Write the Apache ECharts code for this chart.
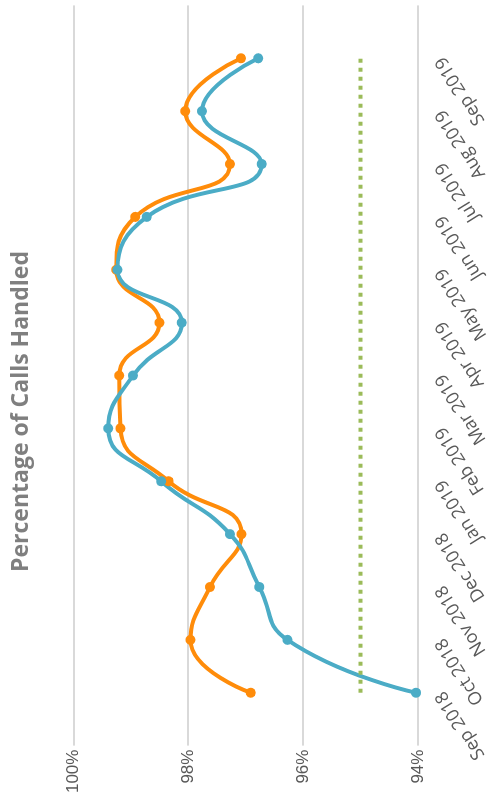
<!DOCTYPE html>
<html>
<head>
<meta charset="utf-8">
<script src="https://cdn.jsdelivr.net/npm/echarts@6/dist/echarts.min.js"></script>
<style>
  html, body { margin: 0; padding: 0; background: #ffffff; overflow: hidden; }
  body { width: 492px; height: 803px; position: relative; }
  /* the chart is laid out landscape and turned a quarter turn counter-clockwise */
  #chart {
    position: absolute; left: 0; top: 0;
    width: 803px; height: 492px;
    transform-origin: 0 0;
    transform: translateY(803px) rotate(-90deg);
  }
</style>
</head>
<body>
<div id="chart"></div>
<script>
// Months along the category direction
const months = ['Sep 2018', 'Oct 2018', 'Nov 2018', 'Dec 2018', 'Jan 2019', 'Feb 2019',
                'Mar 2019', 'Apr 2019', 'May 2019', 'Jun 2019', 'Jul 2019', 'Aug 2019', 'Sep 2019'];

// Percentage of calls handled per month
const handledTeal   = [94.03, 96.27, 96.76, 97.27, 98.47, 99.39, 98.96, 98.11, 99.23, 98.72, 96.72, 97.76, 96.78];
const handledOrange = [96.91, 97.96, 97.62, 97.07, 98.34, 99.18, 99.20, 98.50, 99.25, 98.92, 97.27, 98.05, 97.08];

// Target level
const targetPct = 95;

// Percentage axis ticks
const pctTicks = [94, 96, 98, 100];

const chart = echarts.init(document.getElementById('chart'), null, { renderer: 'canvas' });

const toPairs = arr => arr.map((v, i) => [i, v]);

const option = {
  animation: false,
  backgroundColor: '#ffffff',
  grid: { left: 57.4, right: 5.4, top: 73.3, bottom: 72.7 },
  graphic: [{
    type: 'text',
    x: 391.5,
    y: 21,
    style: {
      text: 'Percentage of Calls Handled',
      align: 'center',
      verticalAlign: 'middle',
      fontFamily: 'Open Sans',
      fontWeight: 'bold',
      fontSize: 23,
      fill: '#7f7f7f'
    }
  }],
  xAxis: {
    type: 'value',
    min: -1,
    max: months.length,
    interval: 1,
    axisLine: { show: false, onZero: false },
    axisTick: { show: false },
    splitLine: { show: false },
    axisLabel: {
      rotate: 32,
      margin: 22,
      fontFamily: 'Open Sans',
      fontSize: 18,
      color: '#595959',
      formatter: v => (months[v] !== undefined ? months[v] : '')
    }
  },
  yAxis: {
    type: 'value',
    min: pctTicks[0],
    max: pctTicks[pctTicks.length - 1],
    interval: pctTicks[1] - pctTicks[0],
    axisLine: { show: false, onZero: false },
    axisTick: { show: false },
    splitLine: { lineStyle: { color: '#d9d9d9', width: 2 } },
    axisLabel: {
      margin: 4,
      fontFamily: 'Liberation Sans',
      fontSize: 17,
      color: '#595959',
      formatter: '{value}%'
    }
  },
  series: [
    {
      type: 'line',
      data: toPairs(handledOrange),
      smooth: 0.5,
      symbol: 'circle',
      symbolSize: 10,
      lineStyle: { width: 4, color: '#ff8c0a' },
      itemStyle: { color: '#ff8c0a' }
    },
    {
      type: 'line',
      data: toPairs(handledTeal),
      smooth: 0.5,
      symbol: 'circle',
      symbolSize: 10,
      lineStyle: { width: 4, color: '#4bacc6' },
      itemStyle: { color: '#4bacc6' }
    },
    {
      type: 'line',
      data: [[0, targetPct], [months.length - 1, targetPct]],
      symbol: 'none',
      lineStyle: { width: 4, color: '#9bbb59', type: [4, 5], cap: 'butt' }
    }
  ]
};

chart.setOption(option);
</script>
</body>
</html>
